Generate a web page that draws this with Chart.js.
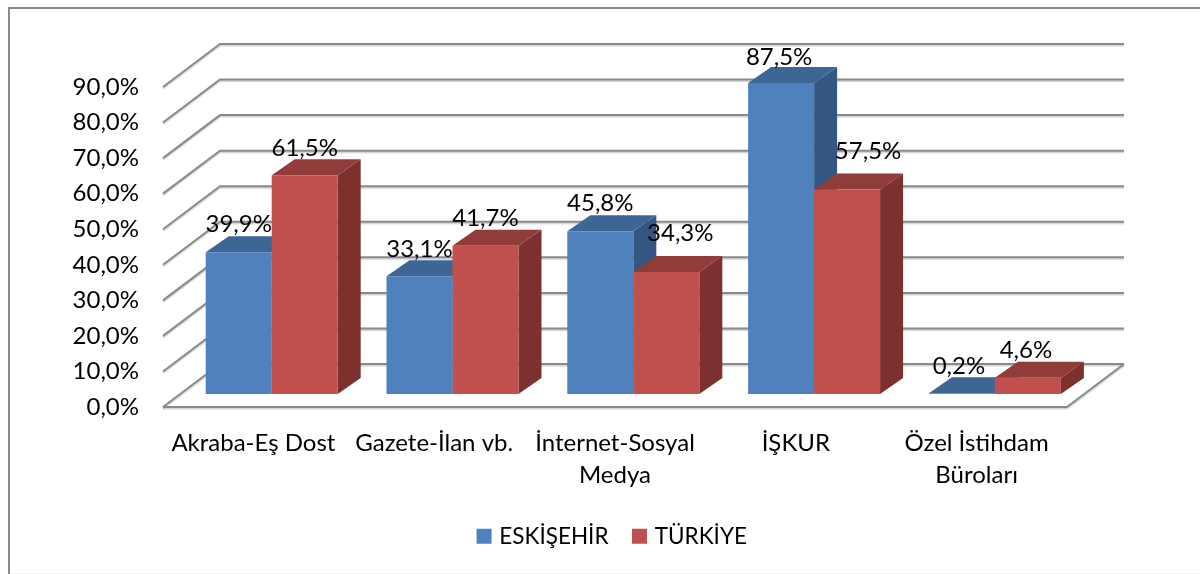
<!DOCTYPE html>
<html>
<head>
<meta charset="utf-8">
<title>ESKİŞEHİR - TÜRKİYE</title>
<script src="https://cdn.jsdelivr.net/npm/chart.js@4/dist/chart.umd.min.js"></script>
<style>
    html, body { margin: 0; padding: 0; background: #fff; }
    canvas { display: block; }
</style>
</head>
<body>
<canvas id="chart" width="1200" height="574"></canvas>
<script>
const categories = ['Akraba-Eş Dost', 'Gazete-İlan vb.', ['İnternet-Sosyal', 'Medya'], 'İŞKUR', ['Özel İstihdam', 'Büroları']];
const eskisehir = [39.9, 33.1, 45.8, 87.5, 0.2];
const turkiye = [61.5, 41.7, 34.3, 57.5, 4.6];

const FONT = 'Lato';
const GRID = '#8a8a8a';
// bars sit a bit inside the floor, so they get shifted from the axis plane
const BAR_SHIFT_X = 18.3;
const BAR_SHIFT_Y = -13;
const BAR_DEPTH_X = 23;
const BAR_DEPTH_Y = -16;
const WALL_DEPTH_X = 57;
const WALL_DEPTH_Y = -43;
const LEGEND_SHIFT = 80;
// some labels were moved by hand in the original, key is dataset:index
const labelNudge = {
    '0:3': [-2, 2],
    '0:4': [-3, 0],
    '1:2': [14, -11],
    '1:3': [21, -11],
    '1:4': [-2, 0]
};

function percent(v) {
    return v.toFixed(1).replace('.', ',') + '%';
}

function poly(ctx, pts, color) {
    ctx.fillStyle = color;
    ctx.beginPath();
    ctx.moveTo(pts[0][0], pts[0][1]);
    for (let i = 1; i < pts.length; i++) ctx.lineTo(pts[i][0], pts[i][1]);
    ctx.closePath();
    ctx.fill();
}

function line(ctx, pts) {
    ctx.beginPath();
    ctx.moveTo(pts[0][0], pts[0][1]);
    for (let i = 1; i < pts.length; i++) ctx.lineTo(pts[i][0], pts[i][1]);
    ctx.stroke();
}

const box3d = {
    id: 'box3d',
    afterLayout(chart) {
        chart.legend.left += LEGEND_SHIFT;
        chart.legend.right += LEGEND_SHIFT;
    },
    beforeDraw(chart) {
        let ctx = chart.ctx;
        ctx.save();
        ctx.strokeStyle = '#f0f0f0';
        ctx.lineWidth = 1;
        line(ctx, [[10, 573.5], [1200, 573.5]]);
        ctx.strokeStyle = GRID;
        ctx.lineWidth = 2;
        line(ctx, [[9, 574], [9, 8], [1200, 8]]);
        ctx.restore();

        // walls and floor
        let area = chart.chartArea;
        let yScale = chart.scales.y;
        ctx.save();
        ctx.strokeStyle = GRID;
        ctx.lineWidth = 2;
        ctx.shadowColor = 'rgba(0,0,0,0.18)';
        ctx.shadowOffsetY = 1.5;
        ctx.shadowBlur = 1;
        yScale.ticks.forEach(tick => {
            let y = yScale.getPixelForValue(tick.value);
            line(ctx, [[area.left, y], [area.left + WALL_DEPTH_X, y + WALL_DEPTH_Y], [area.right + WALL_DEPTH_X, y + WALL_DEPTH_Y]]);
        });
        let y0 = yScale.getPixelForValue(0);
        line(ctx, [[area.left, y0], [area.right, y0], [area.right + WALL_DEPTH_X, y0 + WALL_DEPTH_Y]]);
        ctx.restore();
    },
    beforeDatasetsDraw(chart) {
        let ctx = chart.ctx;
        ctx.save();
        ctx.translate(BAR_SHIFT_X, BAR_SHIFT_Y);
        chart.data.datasets.forEach((ds, d) => {
            chart.getDatasetMeta(d).data.forEach(bar => {
                let l = bar.x - bar.width / 2;
                let r = bar.x + bar.width / 2;
                let dx = BAR_DEPTH_X;
                let dy = BAR_DEPTH_Y;
                poly(ctx, [[r, bar.y], [r + dx, bar.y + dy], [r + dx, bar.base + dy], [r, bar.base]], ds.sideColor);
                poly(ctx, [[l, bar.y], [l + dx, bar.y + dy], [r + dx, bar.y + dy], [r, bar.y]], ds.topColor);
            });
        });
    },
    afterDatasetsDraw(chart) {
        let ctx = chart.ctx;
        ctx.fillStyle = '#000';
        ctx.font = '24px ' + FONT;
        ctx.textAlign = 'center';
        ctx.textBaseline = 'middle';
        chart.data.datasets.forEach((ds, d) => {
            chart.getDatasetMeta(d).data.forEach((bar, i) => {
                let nudge = labelNudge[d + ':' + i] || [0, 0];
                ctx.fillText(percent(ds.data[i]), bar.x + nudge[0], bar.y - 27.5 + nudge[1]);
            });
        });
        ctx.restore();
    }
};

let ctx = document.getElementById('chart').getContext('2d');
new Chart(ctx, {
    type: 'bar',
    data: {
        labels: categories,
        datasets: [
            { label: 'ESKİŞEHİR', data: eskisehir, backgroundColor: '#4F81BD', topColor: '#3E6695', sideColor: '#345682', clip: false },
            { label: 'TÜRKİYE', data: turkiye, backgroundColor: '#C0504D', topColor: '#8F3C3A', sideColor: '#7D312F', clip: false }
        ]
    },
    options: {
        responsive: false,
        animation: false,
        layout: { padding: { left: 0, top: 87, right: 133, bottom: 16.5 } },
        datasets: { bar: { categoryPercentage: 0.73, barPercentage: 1, borderWidth: 0 } },
        scales: {
            x: {
                grid: { display: false, drawTicks: false },
                border: { display: false },
                afterFit(scale) { scale.height = 91; },
                ticks: {
                    color: '#000',
                    padding: 20,
                    maxRotation: 0,
                    autoSkip: false,
                    font: { family: FONT, size: 24, lineHeight: 1.333 }
                }
            },
            y: {
                min: 0,
                max: 90,
                grid: { display: false, drawTicks: false },
                border: { display: false },
                afterFit(scale) { scale.width = 163; },
                ticks: {
                    color: '#000',
                    padding: 24,
                    stepSize: 10,
                    font: { family: FONT, size: 24 },
                    callback: v => percent(v)
                }
            }
        },
        plugins: {
            tooltip: { enabled: false },
            legend: {
                position: 'bottom',
                labels: {
                    color: '#000',
                    usePointStyle: true,
                    pointStyle: 'rect',
                    boxWidth: 8,
                    boxHeight: 15,
                    padding: 27,
                    font: { family: FONT, size: 22.5 }
                }
            }
        }
    },
    plugins: [box3d]
});
</script>
</body>
</html>
